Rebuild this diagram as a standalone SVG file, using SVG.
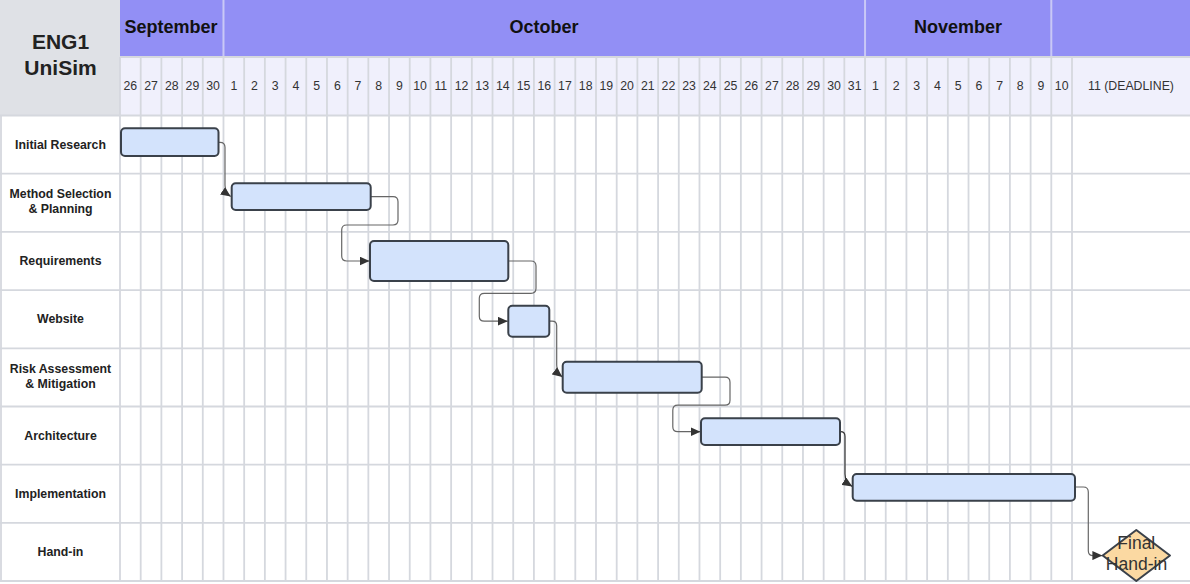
<svg xmlns="http://www.w3.org/2000/svg" width="1190" height="584" viewBox="0 0 1190 584">
<style>
.grid{stroke:#d5d8de;stroke-width:1.8;fill:none}
.msep{stroke:#c9c8f6;stroke-width:2;fill:none}
.title{font-family:"Liberation Sans",Arial,sans-serif;font-weight:bold;font-size:21px;fill:#222;text-anchor:middle}
.month{font-family:"Liberation Sans",Arial,sans-serif;font-weight:bold;font-size:18px;fill:#111;text-anchor:middle}
.day{font-family:"Liberation Sans",Arial,sans-serif;font-size:12.3px;fill:#333;text-anchor:middle}
.task{font-family:"Liberation Sans",Arial,sans-serif;font-weight:bold;font-size:12.3px;fill:#222;text-anchor:middle}
.bar{fill:#d3e3fc;stroke:#3a414a;stroke-width:2}
.conn{fill:none;stroke:#666;stroke-width:1.2;marker-end:url(#arr)}
.milestone{fill:#fbd9a2;stroke:#3a414a;stroke-width:2;stroke-linejoin:round}
.mtext{font-family:"Liberation Sans",Arial,sans-serif;font-size:17.5px;fill:#333;text-anchor:middle}
</style>
<defs>
<marker id="arr" markerWidth="11" markerHeight="9" refX="10" refY="4.5" orient="auto" markerUnits="userSpaceOnUse">
<path d="M0,0 L10,4.5 L0,9 Z" fill="#333"/>
</marker>
</defs>
<rect x="0" y="0" width="1190" height="584" fill="#ffffff"/>
<g id="header">
<rect x="0" y="0" width="120" height="115.5" fill="#dfe1e6"/>
<rect x="120" y="0" width="1070" height="57" fill="#928ff5"/>
<rect x="120" y="57" width="1070" height="58.5" fill="#f0f0fc"/>
<path class="msep" d="M223.48 0V57 M865.04 0V57 M1051.3 0V57"/>
<text class="title" x="60.5" y="49">ENG1</text>
<text class="title" x="60.5" y="75">UniSim</text>
<text class="month" x="171" y="33">September</text>
<text class="month" x="544" y="33">October</text>
<text class="month" x="958" y="33">November</text>
</g>
<g id="grid">
<path class="grid" d="M120 57V581 M140.70 57V581 M161.39 57V581 M182.09 57V581 M202.78 57V581 M223.48 57V581 M244.17 57V581 M264.87 57V581 M285.57 57V581 M306.26 57V581 M326.96 57V581 M347.65 57V581 M368.35 57V581 M389.04 57V581 M409.74 57V581 M430.43 57V581 M451.13 57V581 M471.83 57V581 M492.52 57V581 M513.22 57V581 M533.91 57V581 M554.61 57V581 M575.30 57V581 M596.00 57V581 M616.70 57V581 M637.39 57V581 M658.09 57V581 M678.78 57V581 M699.48 57V581 M720.17 57V581 M740.87 57V581 M761.57 57V581 M782.26 57V581 M802.96 57V581 M823.65 57V581 M844.35 57V581 M865.04 57V581 M885.74 57V581 M906.43 57V581 M927.13 57V581 M947.83 57V581 M968.52 57V581 M989.22 57V581 M1009.91 57V581 M1030.61 57V581 M1051.30 57V581 M1072 57V581"/>
<path class="grid" d="M120 57H1190 M0 115.5H1190 M0 173.7H1190 M0 231.9H1190 M0 290.1H1190 M0 348.3H1190 M0 406.5H1190 M0 464.7H1190 M0 522.9H1190 M0 581H1190 M1 115.5V581"/>
</g>
<g id="days">
<text class="day" x="130.35" y="90">26</text>
<text class="day" x="151.05" y="90">27</text>
<text class="day" x="171.74" y="90">28</text>
<text class="day" x="192.44" y="90">29</text>
<text class="day" x="213.13" y="90">30</text>
<text class="day" x="233.83" y="90">1</text>
<text class="day" x="254.52" y="90">2</text>
<text class="day" x="275.22" y="90">3</text>
<text class="day" x="295.92" y="90">4</text>
<text class="day" x="316.61" y="90">5</text>
<text class="day" x="337.31" y="90">6</text>
<text class="day" x="358.00" y="90">7</text>
<text class="day" x="378.70" y="90">8</text>
<text class="day" x="399.39" y="90">9</text>
<text class="day" x="420.09" y="90">10</text>
<text class="day" x="440.78" y="90">11</text>
<text class="day" x="461.48" y="90">12</text>
<text class="day" x="482.18" y="90">13</text>
<text class="day" x="502.87" y="90">14</text>
<text class="day" x="523.57" y="90">15</text>
<text class="day" x="544.26" y="90">16</text>
<text class="day" x="564.96" y="90">17</text>
<text class="day" x="585.65" y="90">18</text>
<text class="day" x="606.35" y="90">19</text>
<text class="day" x="627.05" y="90">20</text>
<text class="day" x="647.74" y="90">21</text>
<text class="day" x="668.44" y="90">22</text>
<text class="day" x="689.13" y="90">23</text>
<text class="day" x="709.83" y="90">24</text>
<text class="day" x="730.52" y="90">25</text>
<text class="day" x="751.22" y="90">26</text>
<text class="day" x="771.92" y="90">27</text>
<text class="day" x="792.61" y="90">28</text>
<text class="day" x="813.31" y="90">29</text>
<text class="day" x="834.00" y="90">30</text>
<text class="day" x="854.70" y="90">31</text>
<text class="day" x="875.39" y="90">1</text>
<text class="day" x="896.09" y="90">2</text>
<text class="day" x="916.78" y="90">3</text>
<text class="day" x="937.48" y="90">4</text>
<text class="day" x="958.18" y="90">5</text>
<text class="day" x="978.87" y="90">6</text>
<text class="day" x="999.57" y="90">7</text>
<text class="day" x="1020.26" y="90">8</text>
<text class="day" x="1040.96" y="90">9</text>
<text class="day" x="1061.65" y="90">10</text>
<text class="day" x="1131" y="90">11 (DEADLINE)</text>
</g>
<g id="labels">
<text class="task" x="60.5" y="148.5">Initial Research</text>
<text class="task" x="60.5" y="198.3">Method Selection</text>
<text class="task" x="60.5" y="213.3">&amp; Planning</text>
<text class="task" x="60.5" y="265">Requirements</text>
<text class="task" x="60.5" y="323">Website</text>
<text class="task" x="60.5" y="373">Risk Assessment</text>
<text class="task" x="60.5" y="388">&amp; Mitigation</text>
<text class="task" x="60.5" y="439.5">Architecture</text>
<text class="task" x="60.5" y="497.7">Implementation</text>
<text class="task" x="60.5" y="556">Hand-in</text>
</g>
<g id="connectors">
<path class="conn" d="M218.5,142.3 H220 Q225,142.3 225,147.3 V185 C225,191 227,194 230.7,196.6"/>
<path class="conn" d="M370.7,196.7 H393 Q398,196.7 398,201.7 V220 Q398,225 393,225 H346.7 Q341.7,225 341.7,230 V256 Q341.7,261 346.7,261 H369.5"/>
<path class="conn" d="M508.3,261 H531 Q536,261 536,266 V288.3 Q536,293.3 531,293.3 H484.3 Q479.3,293.3 479.3,298.3 V316.2 Q479.3,321.2 484.3,321.2 H507.8"/>
<path class="conn" d="M549.3,321.2 H552 Q556.7,321.2 556.7,326 V365 C556.7,371 558.5,374 562.3,377"/>
<path class="conn" d="M701.7,377.2 H725 Q730,377.2 730,382.2 V400.2 Q730,405.2 725,405.2 H677.8 Q672.8,405.2 672.8,410.2 V426.7 Q672.8,431.7 677.8,431.7 H700.5"/>
<path class="conn" style="stroke:#333" d="M840,431.7 H840.5 Q845,431.7 845,436.5 V474 C845,480 847.5,483.5 852.3,486.5"/>
<path class="conn" d="M1075,487 H1083.3 Q1088.3,487 1088.3,492 V550.7 Q1088.3,555.6 1093.3,555.6 H1102.4"/>
</g>
<g id="task-initial-research"><rect class="bar" x="121" y="128.3" width="97.5" height="27.7" rx="4"/></g>
<g id="task-method-selection"><rect class="bar" x="231.7" y="183.3" width="139" height="26.7" rx="4"/></g>
<g id="task-requirements"><rect class="bar" x="370" y="241" width="138.3" height="40" rx="4"/></g>
<g id="task-website"><rect class="bar" x="508.3" y="305.7" width="41" height="31" rx="4"/></g>
<g id="task-risk"><rect class="bar" x="562.7" y="361.7" width="139" height="31" rx="4"/></g>
<g id="task-architecture"><rect class="bar" x="701" y="418.3" width="139" height="26.7" rx="4"/></g>
<g id="task-implementation"><rect class="bar" x="852.7" y="474" width="222.3" height="26.7" rx="4"/></g>
<g id="milestone-final-handin">
<polygon class="milestone" points="1136.3,530 1170,555.5 1136.3,581 1102.7,555.5"/>
<text class="mtext" x="1136.3" y="549.3">Final</text>
<text class="mtext" x="1136.5" y="570">Hand-in</text>
</g>
</svg>
